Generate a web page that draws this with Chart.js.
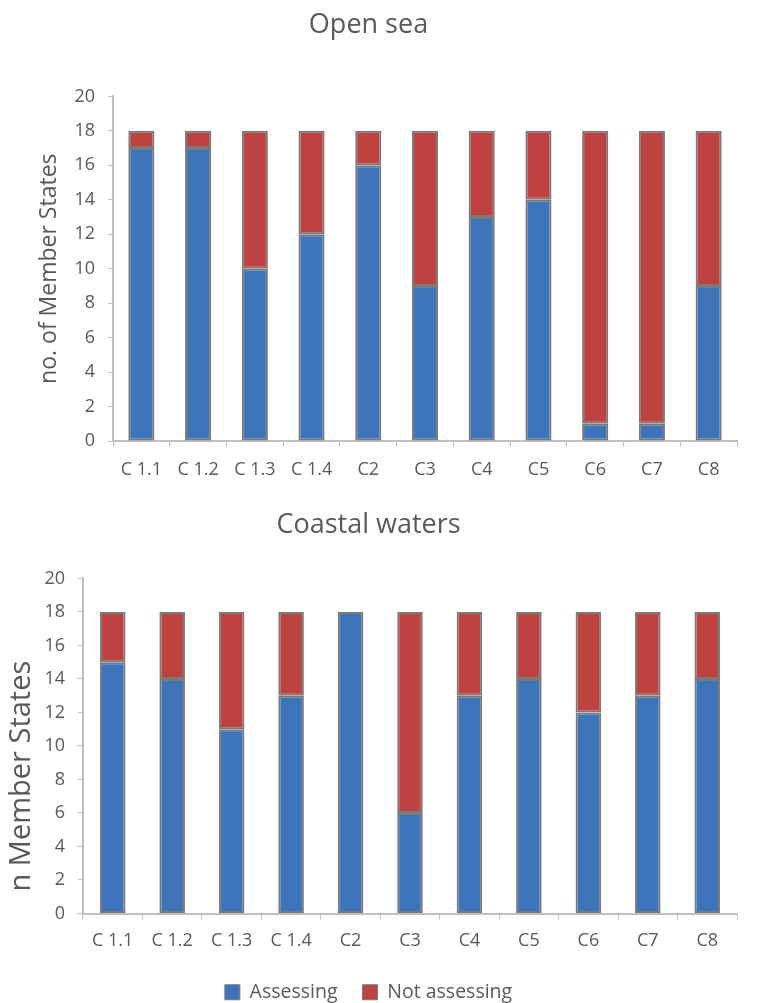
<!DOCTYPE html>
<html>
<head>
<meta charset="utf-8">
<script src="https://cdn.jsdelivr.net/npm/chart.js@4"></script>
<style>
html,body{margin:0;padding:0;background:#fff;overflow:hidden;width:757px;height:1003px;}
#w1{position:absolute;left:0;top:0;width:757px;height:495px;}
#w2{position:absolute;left:0;top:495px;width:757px;height:517px;}
</style>
</head>
<body>
<div id="w1"><canvas id="c1" width="757" height="495"></canvas></div>
<div id="w2"><canvas id="c2" width="757" height="517"></canvas></div>
<script>
const categories = ["C 1.1","C 1.2","C 1.3","C 1.4","C2","C3","C4","C5","C6","C7","C8"];
const openAssessing = [17,17,10,12,16,9,13,14,1,1,9];
const openNotAssessing = [1,1,8,6,2,9,5,4,17,17,9];
const coastAssessing = [15,14,11,13,18,6,13,14,12,13,14];
const coastNotAssessing = [3,4,7,5,0,12,5,4,6,5,4];
const yTicks = [0,2,4,6,8,10,12,14,16,18,20];

const BLUE = "#3E75BA", RED = "#BE4340", BORDER = "#7A7A7A", TXT = "#595959", AXIS = "#BFBFBF";
const FONT = "'Open Sans', 'DejaVu Sans', sans-serif";

function makeChart(id, cfg) {
  return new Chart(document.getElementById(id), {
    type: 'bar',
    data: {
      labels: categories,
      datasets: [
        {label: 'Assessing', data: cfg.a, backgroundColor: BLUE, borderColor: BORDER, borderWidth: 2, borderSkipped: false, barPercentage: cfg.barPct, categoryPercentage: 1},
        {label: 'Not assessing', data: cfg.n, backgroundColor: RED, borderColor: BORDER, borderWidth: 2, borderSkipped: false, barPercentage: cfg.barPct, categoryPercentage: 1}
      ]
    },
    options: {
      responsive: false,
      animation: false,
      layout: {padding: {left: 0, right: 20, top: 0, bottom: 0}},
      plugins: {
        title: {display: true, text: cfg.title, color: TXT, font: {family: FONT, size: 27, weight: 'normal'}, padding: cfg.titlePad},
        legend: {display: cfg.legend, position: 'bottom', labels: {color: TXT, font: {family: FONT, size: 19.5}, boxWidth: 15, boxHeight: 15, padding: 25,
          generateLabels: (chart) => Chart.defaults.plugins.legend.labels.generateLabels(chart).map(l => Object.assign(l, {lineWidth: 1, strokeStyle: BORDER}))}},
        tooltip: {enabled: false}
      },
      scales: {
        x: {
          stacked: true,
          offset: true,
          afterFit: (ax) => { ax.height = cfg.xH; },
          grid: {display: true, drawOnChartArea: false, offset: true, color: AXIS, tickLength: 6, tickColor: AXIS},
          border: {display: true, color: AXIS, width: 2},
          ticks: {color: TXT, font: {family: FONT, size: 18}, maxRotation: 0, autoSkip: false, padding: cfg.xPad}
        },
        y: {
          stacked: true,
          min: 0, max: 20,
          afterBuildTicks: (ax) => { ax.ticks = yTicks.map(v => ({value: v})); },
          afterFit: (ax) => { ax.width = cfg.yW; },
          grid: {display: true, drawOnChartArea: false, color: AXIS, tickLength: 5, tickColor: AXIS},
          border: {display: true, color: AXIS, width: 2},
          ticks: {color: TXT, font: {family: FONT, size: 18}, padding: 13},
          title: {display: true, text: cfg.yTitle, color: TXT, font: {family: FONT, size: cfg.yTitleSize}, padding: {top: cfg.yTitleTop, bottom: 0}}
        }
      }
    }
  });
}
makeChart('c1', {title: 'Open sea', yTitle: 'no. of Member States', a: openAssessing, n: openNotAssessing, legend: false,
  barPct: 0.46, titlePad: {top: 9, bottom: 55}, xH: 54, xPad: 12, yW: 113, yTitleSize: 23, yTitleTop: 36});
makeChart('c2', {title: 'Coastal waters', yTitle: 'n Member States' + '\u00a0'.repeat(8), a: coastAssessing, n: coastNotAssessing, legend: true,
  barPct: 0.43, titlePad: {top: 14, bottom: 37}, xH: 44, xPad: 11, yW: 83, yTitleSize: 29, yTitleTop: 4});
</script>
</body>
</html>
